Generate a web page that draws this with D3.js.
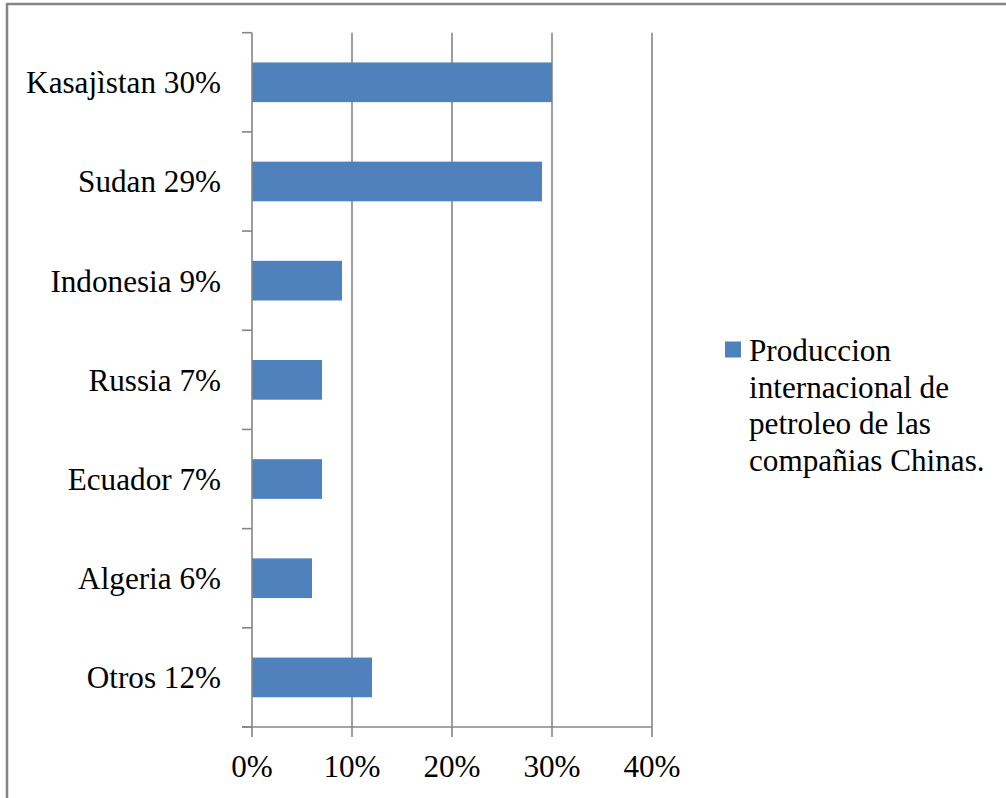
<!DOCTYPE html>
<html><head><meta charset="utf-8">
<script src="https://cdnjs.cloudflare.com/ajax/libs/d3/7.8.5/d3.min.js"></script>
<style>body{margin:0;background:#fff}svg{display:block}text{font-family:"Liberation Serif","Times New Roman",serif;fill:#000}</style>
</head><body>
<script>
const categories = ["Kasajìstan 30%","Sudan 29%","Indonesia 9%","Russia 7%","Ecuador 7%","Algeria 6%","Otros 12%"];
const values = [30,29,9,7,7,6,12];
const xTicks = [0,10,20,30,40];
const legendLines = ["Produccion","internacional de","petroleo de las","compañias Chinas."];

const W=1006,H=798;
const svg=d3.select("body").append("svg").attr("width",W).attr("height",H);
const gray="#868686", blue="#4F81BD";
const fs=31.2;
// outer border
svg.append("path").attr("d",`M7,${H+5}V4H${W+5}`).attr("fill","none").attr("stroke",gray).attr("stroke-width",2.5);

const x=d3.scaleLinear().domain([0,40]).range([252,652]);
const y=d3.scaleBand().domain(categories).range([32.7,727]).paddingInner(0.6).paddingOuter(0.3);
const step=y.step();

// gridlines
svg.append("g").selectAll("line").data(xTicks.slice(1)).join("line")
 .attr("x1",d=>x(d)).attr("x2",d=>x(d)).attr("y1",32.7).attr("y2",727)
 .attr("stroke",gray).attr("stroke-width",1.6);

// bars
svg.append("g").selectAll("rect").data(values).join("rect")
 .attr("x",x(0)).attr("y",(d,i)=>y(categories[i])).attr("width",d=>x(d)-x(0)).attr("height",y.bandwidth())
 .attr("fill",blue);

// y axis line and ticks at band boundaries
svg.append("line").attr("x1",252).attr("x2",252).attr("y1",32.7).attr("y2",727).attr("stroke",gray).attr("stroke-width",1.6);
const bounds=d3.range(categories.length+1).map(i=>32.7+i*step);
svg.append("g").selectAll("line").data(bounds).join("line")
 .attr("x1",242).attr("x2",252).attr("y1",d=>d).attr("y2",d=>d).attr("stroke",gray).attr("stroke-width",1.6);
// x axis line and ticks
svg.append("line").attr("x1",242).attr("x2",652).attr("y1",727).attr("y2",727).attr("stroke",gray).attr("stroke-width",1.6);
svg.append("g").selectAll("line").data(xTicks).join("line")
 .attr("x1",d=>x(d)).attr("x2",d=>x(d)).attr("y1",727).attr("y2",737).attr("stroke",gray).attr("stroke-width",1.6);

// labels
svg.append("g").selectAll("text").data(categories).join("text")
 .attr("x",221).attr("y",d=>y(d)+y.bandwidth()/2).attr("dy","0.35em")
 .attr("text-anchor","end").attr("font-size",fs).text(d=>d);
svg.append("g").selectAll("text").data(xTicks).join("text")
 .attr("x",d=>x(d)).attr("y",777).attr("text-anchor","middle").attr("font-size",fs).text(d=>d+"%");

// legend
svg.append("rect").attr("x",725).attr("y",341.5).attr("width",16).attr("height",16).attr("fill",blue);
svg.append("g").selectAll("text").data(legendLines).join("text")
 .attr("x",749).attr("y",(d,i)=>361+i*36.7).attr("font-size",fs).text(d=>d);
</script>
</body></html>
